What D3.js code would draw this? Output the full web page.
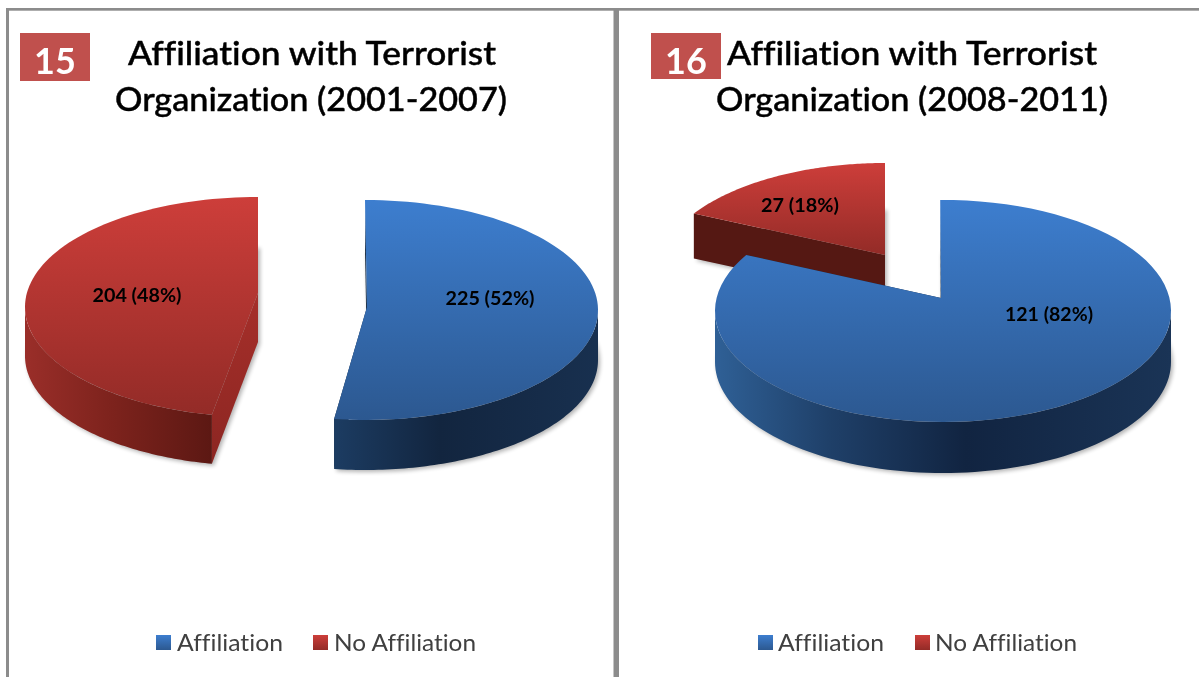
<!DOCTYPE html>
<html><head><meta charset="utf-8">
<script src="https://cdn.jsdelivr.net/npm/d3@7"></script>
<style>html,body{margin:0;padding:0;background:#fff;overflow:hidden}svg{display:block;filter:blur(0.45px)}text{font-family:Lato,"Open Sans",sans-serif;font-variant-ligatures:none}</style>
</head><body><svg id="c" width="1199" height="677"></svg>
<script>
const categories = ["Affiliation", "No Affiliation"];
const values2001 = [225, 204];
const values2008 = [121, 27];
const chartNumbers = ["15", "16"];
const titleLine1 = "Affiliation with Terrorist";
const titles2 = ["Organization (2001-2007)", "Organization (2008-2011)"];

// Layout and styling (separate from the data)
const panels = [
  {values: values2001, badge:[20,33,70,48], badgeText:[55,74], t1:[128,65,368], t2:[115,111,392], legend:[156,313], legendText:[177,334],
   slices:[
    {cat:0,cx:365,cy:310,rx:233,ry:110,apex:[367,307],depth:50,s:0,e:-1.2,label:[490,298],lw:89},
    {cat:1,cx:258,cy:307,rx:233,ry:110,apex:[258,293],depth:49,s:2.6,e:0,label:[137,295],lw:89}]},
  {values: values2008, badge:[651,33,70,46], badgeText:[686,74], t1:[727,65,370], t2:[716,111,392], legend:[758,915], legendText:[778,935],
   slices:[
    {cat:1,cx:885,cy:274,rx:228,ry:111,apex:[885,255],depth:45,s:8.7,e:0,label:[800,205],lw:78,cutDark:true},
    {cat:0,cx:943,cy:311,rx:228,ry:111,apex:[941,298],depth:51,s:-0.7,e:6,label:[1049,314],lw:88,wideWall:true}]}
];
const svg = d3.select("#c");
const defs = svg.append("defs");
function grad(id, stops, horizontal){
  const g = defs.append("linearGradient").attr("id",id).attr("x1",0).attr("y1",0)
    .attr("x2",horizontal?1:0).attr("y2",horizontal?0:1);
  stops.forEach(s=>g.append("stop").attr("offset",s[0]).attr("stop-color",s[1]));
}
grad("topBlue",[[0,"#3d7ecf"],[1,"#2c5890"]]);
grad("topRed",[[0,"#cd3e3a"],[1,"#932b27"]]);
grad("wallBlueL",[[0,"#1c3c62"],[0.4,"#12253f"],[1,"#18304f"]],true);
grad("wallBlueR",[[0,"#2f6096"],[0.25,"#1f4069"],[0.55,"#112441"],[1,"#1a3456"]],true);
grad("wallRed",[[0,"#9a2e29"],[0.45,"#7e231d"],[1,"#5c1813"]],true);
grad("cutRed",[[0,"#a62f2a"],[1,"#8c2622"]]);
defs.append("filter").attr("id","blur").attr("x","-10%").attr("y","-10%").attr("width","120%").attr("height","120%")
  .append("feGaussianBlur").attr("stdDeviation",2.2);

// frame
const frameColor = "#8c8c8c";
[[6,8,608,2.7],[6,8,3,669],[613.5,8,5.5,669],[619,8,580,2.7]].forEach(r=>
  svg.append("rect").attr("x",r[0]).attr("y",r[1]).attr("width",r[2]).attr("height",r[3]).attr("fill",frameColor));

const line = d3.line();
const rad = d=>d*Math.PI/180;
const pie = d3.pie().sort(null).value(d=>d);
const angles = (a,b,n=90)=>d3.range(n+1).map(i=>a+(b-a)*i/n);

panels.forEach(p=>{
  const arcs = pie(p.values);
  const total = d3.sum(p.values);
  p.slices.forEach(s=>{
    const a = arcs[s.cat];
    const t0 = a.startAngle + rad(s.s), t1 = a.endAngle + rad(s.e);
    const rim = (t,d=0)=>[s.cx+s.rx*Math.sin(t), s.cy-s.ry*Math.cos(t)+d];
    const blue = s.cat===0;
    const g = svg.append("g");
    const top = [s.apex,...angles(t0,t1).map(t=>rim(t))];
    // shadow
    g.append("path").attr("d",line(top.map(q=>[q[0]+2,q[1]+s.depth+2]))+"Z")
      .attr("fill","#000").attr("opacity",0.3).attr("filter","url(#blur)");
    // cut faces
    const cutFill = blue ? "#14283f" : (s.cutDark ? "#551813" : "url(#cutRed)");
    [t0,t1].forEach(t=>{
      const q=[s.apex,rim(t),rim(t,s.depth),[s.apex[0],s.apex[1]+s.depth]];
      g.append("path").attr("d",line(q)+"Z").attr("fill",cutFill);
    });
    // outer wall
    const lo=Math.max(t0,Math.PI/2), hi=Math.min(t1,Math.PI*1.5);
    if(hi>lo){
      const up=angles(lo,hi).map(t=>rim(t)), dn=angles(hi,lo).map(t=>rim(t,s.depth));
      g.append("path").attr("d",line([...up,...dn])+"Z")
        .attr("fill",blue?(s.wideWall?"url(#wallBlueR)":"url(#wallBlueL)"):"url(#wallRed)");
    }
    // top face
    g.append("path").attr("d",line(top)+"Z").attr("fill",blue?"url(#topBlue)":"url(#topRed)");
  });
  // labels on top of every slice
  p.slices.forEach(s=>{
    const v=p.values[s.cat];
    svg.append("text").attr("x",s.label[0]-s.lw/2).attr("y",s.label[1]+6.5)
      .attr("font-size",18.5).attr("font-weight",700).attr("fill","#000")
      .attr("textLength",s.lw).attr("lengthAdjust","spacingAndGlyphs")
      .text(`${v} (${Math.round(v/total*100)}%)`);
  });
  // title
  const tt=(pos,str)=>svg.append("text").attr("x",pos[0]).attr("y",pos[1]).attr("font-size",33).attr("font-weight",500)
    .attr("fill","#000").attr("stroke","#000").attr("stroke-width",0.45)
    .attr("textLength",pos[2]).attr("lengthAdjust","spacingAndGlyphs").text(str);
  tt(p.t1,titleLine1); tt(p.t2,titles2[panels.indexOf(p)]);
  // badge
  svg.append("rect").attr("x",p.badge[0]).attr("y",p.badge[1]).attr("width",p.badge[2]).attr("height",p.badge[3]).attr("fill","#c0504d");
  svg.append("text").attr("x",p.badgeText[0]).attr("y",p.badgeText[1]).attr("text-anchor","middle")
    .attr("font-size",36).attr("font-weight",700).attr("fill","#fff").text(chartNumbers[panels.indexOf(p)]);
  // legend
  categories.forEach((c,i)=>{
    const x=p.legend[i];
    svg.append("rect").attr("x",x).attr("y",635).attr("width",15).attr("height",15).attr("fill",i?"url(#topRed)":"url(#topBlue)");
    svg.append("text").attr("x",p.legendText[i]).attr("y",651).attr("font-size",24).attr("fill","#404040")
      .attr("textLength",i?142:106).attr("lengthAdjust","spacingAndGlyphs").text(c);
  });
});
</script></body></html>
